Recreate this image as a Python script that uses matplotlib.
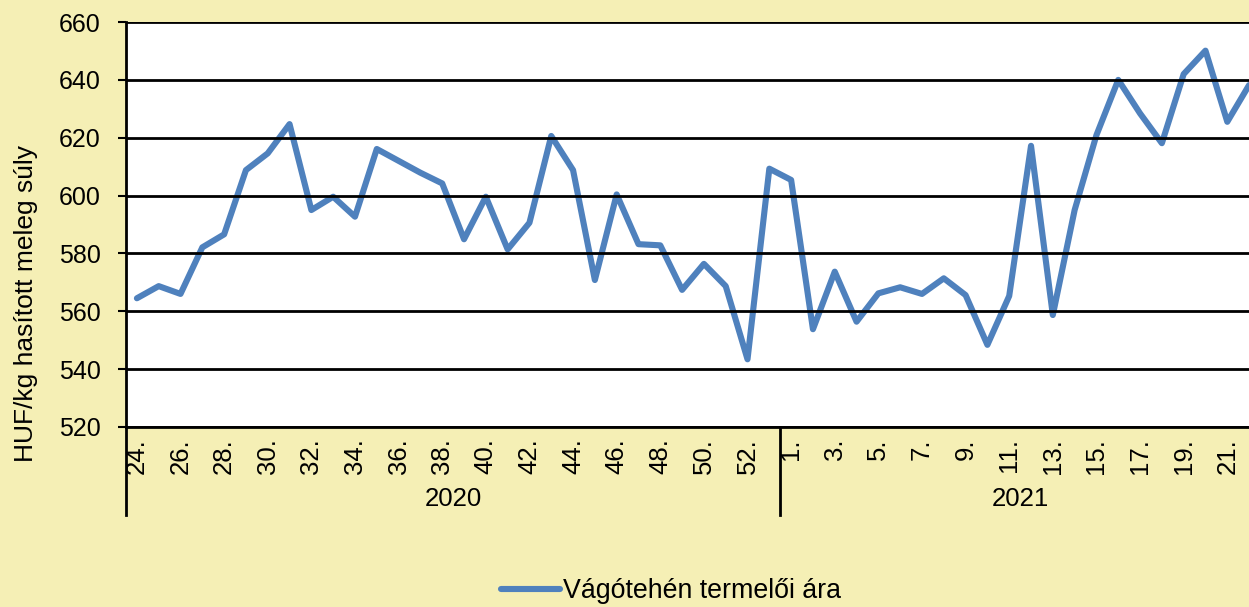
import matplotlib
matplotlib.use('Agg')
import matplotlib.pyplot as plt
import matplotlib.transforms as mtransforms

# weekly data: 2020 weeks 24-53, 2021 weeks 1-22
weeks_2020 = list(range(24, 54))
weeks_2021 = list(range(1, 23))
prices_2020 = [564.5, 568.7, 566.0, 582.1, 586.6, 608.8, 614.6, 624.7, 595.0, 599.6,
               592.7, 616.1, 612.0, 607.9, 604.2, 584.9, 599.6, 581.4, 590.6, 620.6,
               608.8, 570.8, 600.4, 583.2, 582.8, 567.4, 576.4, 568.7, 543.4, 609.3]
prices_2021 = [605.4, 553.8, 573.7, 556.4, 566.2, 568.3, 566.0, 571.4, 565.6, 548.4,
               565.3, 617.2, 558.7, 595.0, 620.9, 640.0, 628.4, 618.1, 642.0, 650.1,
               625.5, 638.2]
years = ['2020', '2021']
series_name = 'Vágótehén termelői ára'
y_label = 'HUF/kg hasított meleg súly'
y_ticks = list(range(520, 661, 20))

BG = '#F5EFB5'
LINE = '#4F81BD'

plt.rcParams['font.family'] = ['Liberation Sans', 'DejaVu Sans']

W, H = 1249, 607
fig = plt.figure(figsize=(W / 100, H / 100), dpi=100, facecolor=BG)
# plot area runs past the right edge of the picture (cropped like the original)
ax = fig.add_axes([126 / W, (H - 427) / H, (1260 - 126) / W, (427 - 22) / H])
ax.set_facecolor('white')

values = prices_2020 + prices_2021
labels = [f'{w}.' for w in weeks_2020] + [f'{w}.' for w in weeks_2021]
xs = list(range(len(values)))

ax.plot(xs, values, color=LINE, linewidth=4.4, solid_joinstyle='round',
        solid_capstyle='round', label=series_name)

ax.set_xlim(-0.5, len(values) - 0.5)
ax.set_ylim(520, 660)
ax.set_yticks(y_ticks)
ax.tick_params(axis='y', labelsize=18, length=6, width=1.5, pad=12, color='black')
ax.yaxis.grid(True, color='black', linewidth=2)
ax.set_axisbelow(False)

ax.set_xticks(xs[::2])
ax.set_xticklabels(labels[::2], rotation=90, fontsize=18.5, va='top')
ax.tick_params(axis='x', length=0, pad=8)

for s in ['top', 'right']:
    ax.spines[s].set_visible(False)
ax.spines['left'].set_linewidth(2)
ax.spines['bottom'].set_linewidth(2)

# year group separators and labels
trans = mtransforms.blended_transform_factory(ax.transData, ax.transAxes)
n20 = len(prices_2020)
bounds = [-0.5, n20 - 0.5, len(values) - 0.5]
for b in bounds:
    ax.plot([b, b], [0, -88 / 405], transform=trans, color='black', linewidth=2,
            clip_on=False)
for i, yr in enumerate(years):
    ax.text((bounds[i] + bounds[i + 1]) / 2, -72 / 405, yr, transform=trans,
            ha='center', va='center', fontsize=18.5)

fig.text(26 / W, 0.5, y_label, rotation=90, ha='center', va='center', fontsize=19)

leg = fig.legend(loc='center', bbox_to_anchor=(671 / W, 1 - 591 / H), frameon=False,
                 fontsize=19.3, handlelength=2.2, handletextpad=0.1)
for h in leg.get_lines():
    h.set_linewidth(4.4)

fig.savefig('out.png', dpi=100, facecolor=BG)
